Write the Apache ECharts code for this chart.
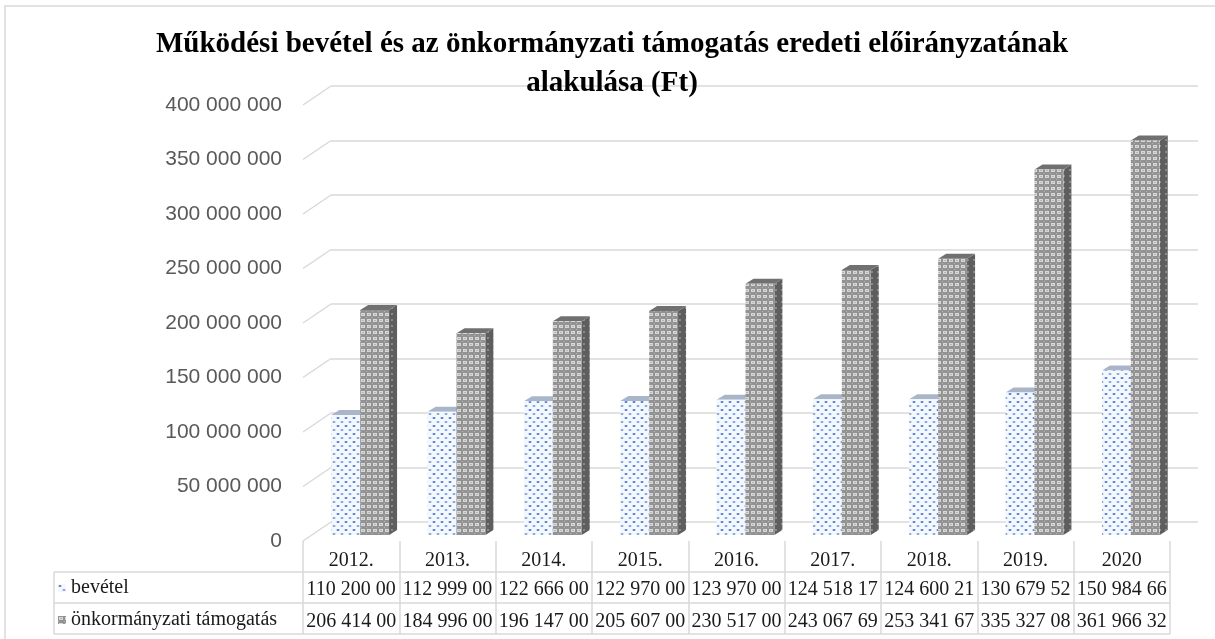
<!DOCTYPE html>
<html>
<head>
<meta charset="utf-8">
<script src="https://cdn.jsdelivr.net/npm/echarts@6/dist/echarts.min.js"></script>
<style>
html, body { margin: 0; padding: 0; background: #fff; }
#chart { width: 1215px; height: 639px; }
</style>
</head>
<body>
<div id="chart"></div>
<script>
var years = ['2012.', '2013.', '2014.', '2015.', '2016.', '2017.', '2018.', '2019.', '2020'];
var bevetel = [110200000, 112999000, 122666000, 122970000, 123970000, 124518170, 124600210, 130679520, 150984660];
var tamogatas = [206414000, 184996000, 196147000, 205607000, 230517000, 243067690, 253341670, 335327080, 361966320];
var valueTicks = [0, 50000000, 100000000, 150000000, 200000000, 250000000, 300000000, 350000000, 400000000];
var seriesNames = ['bevétel', 'önkormányzati támogatás'];

var GRID_LINE = '#d9d9d9';
var D = 8, DV = 5;          // bar depth
var WALL_DX = 28, WALL_DY = 19;

function fmt(v) {
    return String(v).replace(/\B(?=(\d{3})+(?!\d))/g, ' ');
}

// fill patterns
function makePattern(w, h, draw) {
    var c = document.createElement('canvas');
    c.width = w; c.height = h;
    draw(c.getContext('2d'));
    return { image: c, repeat: 'repeat' };
}
var dotPattern = makePattern(8, 8, function (ctx) {
    ctx.fillStyle = '#f4f7fc';
    ctx.fillRect(0, 0, 8, 8);
    ctx.fillStyle = '#4a7bd4';
    ctx.beginPath(); ctx.ellipse(2, 2, 1.5, 1.1, 0, 0, Math.PI * 2); ctx.fill();
    ctx.fillStyle = '#7ea2e0';
    ctx.beginPath(); ctx.ellipse(6, 6, 1.5, 1.1, 0, 0, Math.PI * 2); ctx.fill();
});
var hatchPattern = makePattern(6, 6, function (ctx) {
    ctx.fillStyle = '#929292';
    ctx.fillRect(0, 0, 6, 6);
    ctx.fillStyle = '#d8d8d8';
    ctx.fillRect(1, 1, 4, 3);
    ctx.fillStyle = '#b4b4b4';
    ctx.fillRect(2, 2, 2, 1);
    ctx.fillRect(0, 5, 1, 1);
});
var sidePattern = makePattern(6, 6, function (ctx) {
    ctx.fillStyle = '#5e5e5e';
    ctx.fillRect(0, 0, 6, 6);
    ctx.fillStyle = '#8a8a8a';
    ctx.fillRect(1, 1, 2, 2);
});

function barRenderer(side, faceFill, sideFill, topFill) {
    return function (params, api) {
        var i = api.value(0), v = api.value(1);
        var base = api.coord([i, 0]);
        var top = api.coord([i, v]);
        var w = api.size([1, 0])[0] * 0.3;
        var x = side < 0 ? base[0] - w : base[0];
        var y0 = base[1], y1 = top[1];
        return {
            type: 'group',
            children: [
                { type: 'polygon', shape: { points: [[x + w, y1], [x + w + D, y1 - DV], [x + w + D, y0 - DV], [x + w, y0]] }, style: { fill: sideFill } },
                { type: 'polygon', shape: { points: [[x, y1], [x + D, y1 - DV], [x + w + D, y1 - DV], [x + w, y1]] }, style: { fill: topFill } },
                { type: 'rect', shape: { x: x, y: y1, width: w, height: y0 - y1 }, style: { fill: faceFill } }
            ]
        };
    };
}

var tableFont = { fontFamily: 'Liberation Serif', fontSize: 20, color: '#1a1a1a', interval: 0, hideOverlap: false };

var option = {
    animation: false,
    backgroundColor: '#fff',
    title: {
        text: 'Működési bevétel és az önkormányzati támogatás eredeti előirányzatának\nalakulása (Ft)',
        left: 612,
        top: 25,
        textAlign: 'center',
        padding: 0,
        textStyle: {
            fontFamily: 'Liberation Serif',
            fontWeight: 'bold',
            fontSize: 29,
            lineHeight: 39,
            color: '#000'
        }
    },
    legend: {
        orient: 'vertical',
        left: 58,
        top: 578,
        padding: 0,
        itemWidth: 8,
        itemHeight: 8,
        itemGap: 12,
        selectedMode: false,
        icon: 'rect',
        textStyle: { fontFamily: 'Liberation Serif', fontSize: 20, lineHeight: 20, color: '#1a1a1a' },
        data: [
            { name: seriesNames[0], itemStyle: { color: dotPattern } },
            { name: seriesNames[1], itemStyle: { color: hatchPattern } }
        ]
    },
    grid: [
        { left: 303, right: 45, top: 105, bottom: 98 },   // front plane + table
        { left: 312, right: 36, top: 99, bottom: 104 },   // bar plane
        { left: 331, right: 17, top: 86, bottom: 117 }    // back wall
    ],
    xAxis: [
        {
            gridIndex: 0, type: 'category', data: years,
            axisLine: { show: false },
            axisTick: { show: true, interval: 0, length: 93, lineStyle: { color: GRID_LINE, width: 1.5 } },
            axisLabel: Object.assign({ margin: 10 }, tableFont)
        },
        {
            gridIndex: 0, type: 'category', data: years, position: 'bottom', offset: 31,
            axisLine: { show: false }, axisTick: { show: false },
            axisLabel: Object.assign({ margin: 8, formatter: function (v, i) { return fmt(bevetel[i]).slice(0, 10); } }, tableFont)
        },
        {
            gridIndex: 0, type: 'category', data: years, position: 'bottom', offset: 63,
            axisLine: { show: false }, axisTick: { show: false },
            axisLabel: Object.assign({ margin: 8, formatter: function (v, i) { return fmt(tamogatas[i]).slice(0, 10); } }, tableFont)
        },
        { gridIndex: 1, type: 'category', data: years, show: false },
        { gridIndex: 2, type: 'category', data: years, show: false }
    ],
    yAxis: [
        {
            gridIndex: 0, type: 'value', min: 0, max: 400000000, interval: 50000000,
            axisLine: { show: false }, axisTick: { show: false }, splitLine: { show: false },
            axisLabel: {
                margin: 21,
                fontFamily: 'Liberation Sans',
                fontSize: 21,
                color: '#595959',
                formatter: function (v) { return fmt(v); }
            }
        },
        { gridIndex: 1, type: 'value', min: 0, max: 400000000, interval: 50000000, show: false },
        {
            gridIndex: 2, type: 'value', min: 0, max: 400000000, interval: 50000000,
            axisLine: { show: false }, axisTick: { show: false }, axisLabel: { show: false },
            splitLine: { show: true, lineStyle: { color: GRID_LINE, width: 1.5 } }
        }
    ],
    graphic: [
        { type: 'rect', silent: true, shape: { x: 5, y: 6, width: 1400, height: 800 }, style: { fill: 'none', stroke: GRID_LINE, lineWidth: 1.5 } },
        { type: 'line', silent: true, shape: { x1: 54, y1: 572, x2: 1170, y2: 572 }, style: { stroke: GRID_LINE, lineWidth: 1.5 } },
        { type: 'line', silent: true, shape: { x1: 54, y1: 603, x2: 1170, y2: 603 }, style: { stroke: GRID_LINE, lineWidth: 1.5 } },
        { type: 'line', silent: true, shape: { x1: 54, y1: 634, x2: 1170, y2: 634 }, style: { stroke: GRID_LINE, lineWidth: 1.5 } },
        { type: 'line', silent: true, shape: { x1: 54, y1: 572, x2: 54, y2: 634 }, style: { stroke: GRID_LINE, lineWidth: 1.5 } }
    ],
    series: [
        {
            // diagonal wall connectors at each tick
            type: 'custom', xAxisIndex: 0, yAxisIndex: 0, silent: true,
            data: valueTicks.map(function (v) { return [0, v]; }),
            renderItem: function (params, api) {
                var y = api.coord([0, api.value(1)])[1];
                var x = params.coordSys.x;
                return {
                    type: 'line',
                    shape: { x1: x, y1: y, x2: x + WALL_DX, y2: y - WALL_DY },
                    style: { stroke: GRID_LINE, lineWidth: 1.5 }
                };
            }
        },
        {
            name: seriesNames[0], type: 'custom', xAxisIndex: 3, yAxisIndex: 1,
            itemStyle: { color: dotPattern },
            data: bevetel.map(function (v, i) { return [i, v]; }),
            renderItem: barRenderer(-1, dotPattern, '#c9d3e2', '#a9b6c9')
        },
        {
            name: seriesNames[1], type: 'custom', xAxisIndex: 3, yAxisIndex: 1,
            itemStyle: { color: hatchPattern },
            data: tamogatas.map(function (v, i) { return [i, v]; }),
            renderItem: barRenderer(1, hatchPattern, sidePattern, '#707070')
        }
    ]
};

var chart = echarts.init(document.getElementById('chart'));
chart.setOption(option);
</script>
</body>
</html>
